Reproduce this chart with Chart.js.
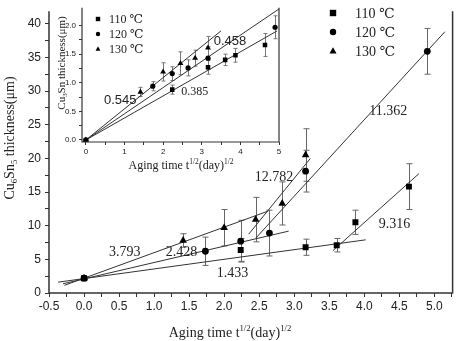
<!DOCTYPE html>
<html>
<head>
<meta charset="UTF-8">
<title>Cu6Sn5 / Cu3Sn thickness vs aging time</title>
<script src="https://cdn.jsdelivr.net/npm/chart.js"></script>
<style>
  body { margin: 0; background: #fff; }
  #wrap { position: relative; width: 457px; height: 341px; }
  canvas { position: absolute; left: 0; top: 0; }
</style>
</head>
<body>
<div id="wrap">
  <canvas id="main" width="457" height="341"></canvas>
  <canvas id="inset" width="290" height="176"></canvas>
</div>

<script>
// ---- data ----
const seriesNames = ['110 ℃', '120 ℃', '130 ℃'];
const markers = ['rect', 'circle', 'triangle'];

// main chart: Cu6Sn5 thickness (um) vs sqrt(t)
const x110 = [0, 2.236, 3.162, 3.606, 3.873, 4.637];
const y110 = [2.2, 6.4, 6.8, 7.1, 10.5, 15.8];
const e110 = [0.2, 1.7, 1.2, 1.0, 1.8, 3.4];
const x120 = [0, 1.732, 2.236, 2.646, 3.162, 4.899];
const y120 = [2.2, 6.2, 7.7, 8.9, 18.1, 35.9];
const e120 = [0.2, 2.1, 3.1, 3.4, 3.1, 3.4];
const x130 = [0, 1.414, 2.0, 2.449, 2.828, 3.162];
const y130 = [2.2, 7.8, 9.7, 10.9, 13.3, 20.5];
const e130 = [0.2, 1.0, 2.7, 3.3, 3.2, 3.9];

// fitted lines in main chart
const fitSlope = [1.433, 2.428, 3.793, 9.316, 11.362, 12.782];
const fitIntercept = [2.14, 2.1, 2.2, -26.8, -19.7, -21.3];
const fitFrom = [-0.37, -0.3, -0.28, 3.55, 2.45, 2.35];
const fitTo = [4.02, 2.92, 2.63, 4.78, 5.15, 3.23];
const fitText = ['1.433', '2.428', '3.793', '9.316', '11.362', '12.782'];
const fitTextX = [2.12, 1.39, 0.58, 4.43, 4.34, 2.71];
const fitTextY = [2.86, 6.0, 6.1, 10.2, 27.0, 17.2];

// inset: Cu3Sn thickness (um) vs sqrt(t)
const ix110 = [0, 2.236, 3.162, 3.606, 3.873, 4.637];
const iy110 = [0, 0.88, 1.27, 1.40, 1.48, 1.66];
const ie110 = [0.02, 0.08, 0.12, 0.1, 0.12, 0.2];
const ix120 = [0, 1.732, 2.236, 2.646, 3.162, 4.899];
const iy120 = [0, 0.94, 1.16, 1.26, 1.43, 1.97];
const ie120 = [0.02, 0.08, 0.12, 0.14, 0.2, 0.2];
const ix130 = [0, 1.414, 2.0, 2.449, 2.828, 3.162];
const iy130 = [0, 0.84, 1.19, 1.34, 1.43, 1.61];
const ie130 = [0.02, 0.08, 0.16, 0.2, 0.14, 0.2];

const insetSlope = [0.385, 0.458, 0.545];
const insetTo = [4.95, 5.0, 3.5];
const insetText = ['0.385', '0.458', '0.545'];
const insetTextX = [2.82, 3.73, 0.89];
const insetTextY = [0.84, 1.72, 0.70];

// axis ticks
const mainXLabels = [-0.5, 0, 0.5, 1, 1.5, 2, 2.5, 3, 3.5, 4, 4.5, 5];
const mainYLabels = [0, 5, 10, 15, 20, 25, 30, 35, 40];
const insetXLabels = [0, 1, 2, 3, 4, 5];
const insetYLabels = [0, 0.5, 1.0, 1.5, 2.0];

// ---- helpers ----
const INK = '#222';
const SERIF = '"Liberation Serif", "DejaVu Serif", serif';
const SANS = '"Liberation Sans", Arial, sans-serif';

function withMinor(majors, extraEnd) {
  const out = [];
  for (let i = 0; i < majors.length; i++) {
    out.push(majors[i]);
    const next = i < majors.length - 1 ? majors[i + 1] : (extraEnd ? majors[i] + (majors[i] - majors[i - 1]) : null);
    if (next !== null) out.push((majors[i] + next) / 2);
  }
  return out;
}

function isMajor(list, v) {
  return list.some(m => Math.abs(m - v) < 1e-9);
}

function pts(xs, ys) {
  return xs.map((x, i) => ({ x: x, y: ys[i] }));
}

function marker(ctx, style, x, y, r) {
  ctx.beginPath();
  if (style === 'rect') {
    ctx.rect(x - r, y - r, 2 * r, 2 * r);
  } else if (style === 'circle') {
    ctx.arc(x, y, r, 0, Math.PI * 2);
  } else {
    ctx.moveTo(x, y - r * 1.2);
    ctx.lineTo(x + r * 1.1, y + r * 0.8);
    ctx.lineTo(x - r * 1.1, y + r * 0.8);
    ctx.closePath();
  }
  ctx.fill();
}

// text with sub/superscripts, centred on (cx, cy)
function richText(ctx, parts, cx, cy, size, rotate) {
  ctx.save();
  ctx.translate(cx, cy);
  if (rotate) ctx.rotate(-Math.PI / 2);
  ctx.fillStyle = INK;
  ctx.textBaseline = 'alphabetic';
  ctx.textAlign = 'left';
  let total = 0;
  const widths = parts.map(p => {
    ctx.font = (p[1] ? size * 0.62 : size) + 'px ' + SERIF;
    const w = ctx.measureText(p[0]).width;
    total += w;
    return w;
  });
  let x = -total / 2;
  const base = size * 0.35;
  parts.forEach((p, i) => {
    ctx.font = (p[1] ? size * 0.62 : size) + 'px ' + SERIF;
    const dy = p[1] === 1 ? size * 0.22 : (p[1] === 2 ? -size * 0.42 : 0);
    ctx.fillText(p[0], x, base + dy);
    x += widths[i];
  });
  ctx.restore();
}

const errorBars = {
  id: 'errorBars',
  beforeDatasetsDraw(chart, args, opts) {
    const ctx = chart.ctx;
    const xs = chart.scales.x, ys = chart.scales.y;
    ctx.save();
    ctx.strokeStyle = opts.color || '#666';
    ctx.lineWidth = 1;
    chart.data.datasets.forEach(ds => {
      if (!ds.errors) return;
      ds.data.forEach((p, i) => {
        const e = ds.errors[i];
        const px = Math.round(xs.getPixelForValue(p.x)) + 0.5;
        const top = ys.getPixelForValue(p.y + e);
        const bot = ys.getPixelForValue(p.y - e);
        const c = opts.cap;
        ctx.beginPath();
        ctx.moveTo(px, top); ctx.lineTo(px, bot);
        ctx.moveTo(px - c, top); ctx.lineTo(px + c, top);
        ctx.moveTo(px - c, bot); ctx.lineTo(px + c, bot);
        ctx.stroke();
      });
    });
    ctx.restore();
  }
};

const frame = {
  id: 'frame',
  beforeDraw(chart, args, opts) {
    const a = chart.chartArea, ctx = chart.ctx;
    if (opts.fill) {
      ctx.save();
      ctx.fillStyle = '#fff';
      ctx.fillRect(a.left, a.top, a.right - a.left, a.bottom - a.top);
      ctx.restore();
    }
  },
  afterDraw(chart, args, opts) {
    const a = chart.chartArea, ctx = chart.ctx;
    ctx.save();
    ctx.strokeStyle = '#333';
    ctx.lineWidth = opts.width;
    ctx.beginPath();
    ctx.moveTo(a.left, a.top); ctx.lineTo(a.left, a.bottom);
    ctx.lineTo(a.right, a.bottom); ctx.lineTo(a.right, a.top);
    ctx.stroke();

    // slope labels
    const xs = chart.scales.x, ys = chart.scales.y;
    ctx.fillStyle = INK;
    ctx.textAlign = 'center';
    ctx.textBaseline = 'middle';
    opts.notes.text.forEach((t, i) => {
      ctx.font = opts.notes.font[i];
      ctx.fillText(t, xs.getPixelForValue(opts.notes.x[i]), ys.getPixelForValue(opts.notes.y[i]));
    });

    // legend
    const L = opts.legend;
    ctx.textAlign = 'left';
    ctx.font = L.font;
    seriesNames.forEach((n, i) => {
      const y = L.y + i * L.gap;
      ctx.fillStyle = '#000';
      marker(ctx, markers[i], L.x, y, L.r);
      ctx.fillStyle = INK;
      ctx.fillText(n, L.tx, y + 1);
    });

    // axis titles
    opts.titles.forEach(t => richText(ctx, t.parts, t.x, t.y, t.size, t.rot));
    ctx.restore();
  }
};

function pointSet(xs, ys, es, i, big) {
  const r = big ? [4.2, 3.4, 4.4][i] : [3.2, 2.6, 3.4][i];
  return {
    data: pts(xs, ys), errors: es, showLine: false,
    pointStyle: markers[i], pointRadius: r, pointHoverRadius: r,
    backgroundColor: '#000', borderColor: '#000', borderWidth: 0
  };
}

function lineSet(slope, b, from, to) {
  return {
    data: [{ x: from, y: slope * from + b }, { x: to, y: slope * to + b }],
    showLine: true, pointRadius: 0, borderColor: '#333', borderWidth: 1, fill: false
  };
}

function axis(min, max, ticks, labels, fmt, size, tickLen, pad, fit) {
  return {
    type: 'linear', min: min, max: max,
    afterBuildTicks: s => { s.ticks = ticks.map(v => ({ value: v })); },
    afterFit: fit,
    border: { display: false },
    grid: { drawOnChartArea: false, drawTicks: true, tickLength: tickLen, color: '#333' },
    ticks: {
      autoSkip: false, maxRotation: 0, padding: pad, color: INK,
      font: { family: SANS, size: size },
      callback: v => isMajor(labels, v) ? fmt(v) : ''
    }
  };
}

// ---- main chart ----
const mainSets = [
  pointSet(x110, y110, e110, 0, true),
  pointSet(x120, y120, e120, 1, true),
  pointSet(x130, y130, e130, 2, true)
];
fitSlope.forEach((s, i) => mainSets.push(lineSet(s, fitIntercept[i], fitFrom[i], fitTo[i])));

new Chart(document.getElementById('main'), {
  type: 'scatter',
  data: { datasets: mainSets },
  options: {
    responsive: false, animation: false, events: [],
    layout: { padding: { top: 0, right: 2, left: 0, bottom: 0 } },
    plugins: {
      legend: { display: false }, tooltip: { enabled: false },
      errorBars: { cap: 3, color: '#666' },
      frame: {
        width: 1.5,
        notes: { text: fitText, x: fitTextX, y: fitTextY, font: fitText.map(() => '14px ' + SERIF) },
        legend: { x: 333, tx: 355, y: 13, gap: 19, r: 3.2, font: '14px ' + SERIF },
        titles: [
          { parts: [['Aging time t', 0], ['1/2', 2], ['(day)', 0], ['1/2', 2]], x: 230, y: 332, size: 14 },
          { parts: [['Cu', 0], ['6', 1], ['Sn', 0], ['5', 1], [' thickness(μm)', 0]], x: 9, y: 138, size: 14, rot: true }
        ]
      }
    },
    scales: {
      x: axis(-0.5, 5.26, withMinor(mainXLabels, true), mainXLabels, v => v.toFixed(1), 12, 4, 2, s => { s.height = 48; }),
      y: axis(0, 41.86, withMinor(mainYLabels, false), mainYLabels, v => String(v), 12, 4, 4, s => { s.width = 49; })
    }
  },
  plugins: [errorBars, frame]
});

// ---- inset ----
const insetSets = [
  pointSet(ix110, iy110, ie110, 0, false),
  pointSet(ix120, iy120, ie120, 1, false),
  pointSet(ix130, iy130, ie130, 2, false)
];
insetSlope.forEach((s, i) => insetSets.push(lineSet(s, 0, 0, insetTo[i])));

new Chart(document.getElementById('inset'), {
  type: 'scatter',
  data: { datasets: insetSets },
  options: {
    responsive: false, animation: false, events: [],
    layout: { padding: { top: 0, right: 11, left: 0, bottom: 0 } },
    plugins: {
      legend: { display: false }, tooltip: { enabled: false },
      errorBars: { cap: 2, color: '#777' },
      frame: {
        width: 1.2, fill: true,
        notes: { text: insetText, x: insetTextX, y: insetTextY, font: ['12px ' + SERIF, '13px ' + SANS, '13px ' + SANS] },
        legend: { x: 98, tx: 109, y: 19, gap: 15, r: 2.2, font: '12px ' + SERIF },
        titles: [
          { parts: [['Aging time t', 0], ['1/2', 2], ['(day)', 0], ['1/2', 2]], x: 181, y: 165, size: 12 },
          { parts: [['Cu', 0], ['3', 1], ['Sn thickness(μm)', 0]], x: 61, y: 63, size: 11, rot: true }
        ]
      }
    },
    scales: {
      x: axis(-0.1, 5.0, withMinor(insetXLabels, false), insetXLabels, v => String(v), 8, 3, 2, s => { s.height = 34; }),
      y: axis(-0.035, 2.31, withMinor(insetYLabels, false), insetYLabels, v => v.toFixed(1), 8, 3, 3, s => { s.width = 82; })
    }
  },
  plugins: [errorBars, frame]
});
</script>
</body>
</html>
